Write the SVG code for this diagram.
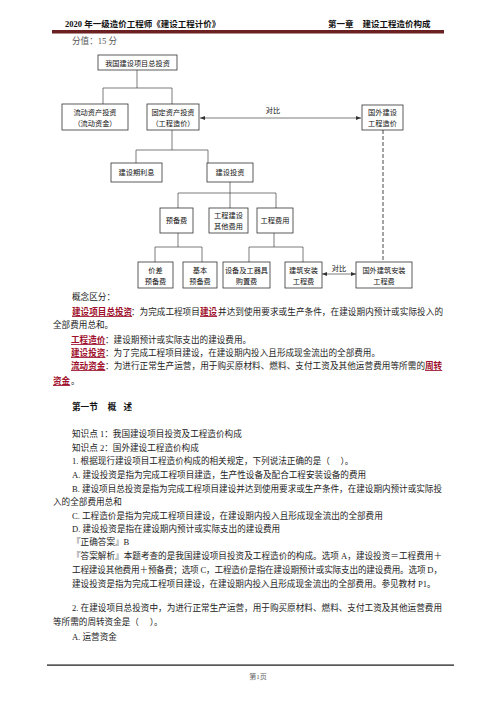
<svg xmlns="http://www.w3.org/2000/svg" width="496" height="702" viewBox="0 0 496 702">
<defs>
<marker id="ah" viewBox="0 0 10 10" refX="10" refY="5" markerWidth="5" markerHeight="5" orient="auto-start-reverse" markerUnits="userSpaceOnUse">
<path d="M0,1 L10,5 L0,9 Z" fill="#333"/>
</marker>
</defs>
<style>
text{font-family:"Liberation Serif","Noto Sans CJK SC",serif;}
.hd{font-size:8.5px;font-weight:bold;fill:#111;}
.b{font-size:8.6px;fill:#222;}
.r{font-size:8.6px;fill:#9e0f2c;font-weight:bold;text-decoration:underline;}
.g{font-size:8.6px;fill:#555;}
.nt{font-size:7.2px;fill:#111;text-anchor:middle;}
.box{fill:#fff;stroke:#333;stroke-width:0.8;}
.cn{fill:none;stroke:#444;stroke-width:0.7;}
.ds{fill:none;stroke:#333;stroke-width:0.9;stroke-dasharray:4,2;}
</style>
<rect width="496" height="702" fill="#fff"/>
<!-- header -->
<text class="hd" x="65" y="27">2020 年一级造价工程师《建设工程计价》</text>
<text class="hd" x="328" y="27">第一章<tspan dx="9">建设工程造价构成</tspan></text>
<rect x="52" y="30" width="392" height="3.5" fill="#6b2121"/>
<text class="g" x="72" y="44">分值：15 分</text>

<!-- connectors -->
<g id="connectors">
<path class="cn" d="M137,70 V88 M103,88 H172 M103,88 V104 M172,88 V104"/>
<path class="cn" d="M172,130 V150 M136,150 H208 M136,150 V163 M208,150 V163"/>
<path class="cn" d="M230,182 V208 M178,193 H276 M178,193 V208 M276,193 V208"/>
<path class="cn" d="M178,233 V247 M155,247 H202 M155,247 V262 M202,247 V262"/>
<path class="cn" d="M274,233 V247 M249,247 H303 M249,247 V262 M303,247 V262"/>
<line class="cn" x1="200" y1="118" x2="361" y2="118" marker-start="url(#ah)" marker-end="url(#ah)"/>
<text class="nt" x="273" y="113">对比</text>
<line class="ds" x1="383" y1="130" x2="383" y2="262"/>
<line class="cn" x1="322" y1="274" x2="356" y2="274" marker-start="url(#ah)" marker-end="url(#ah)"/>
<text class="nt" x="339" y="271">对比</text>
</g>

<!-- nodes -->
<g id="n1"><rect class="box" x="98" y="55" width="79" height="15"/><text class="nt" x="137.5" y="65.5">我国建设项目总投资</text></g>
<g id="n2"><rect class="box" x="62" y="104" width="66" height="26"/><text class="nt" x="95" y="114.5">流动资产投资</text><text class="nt" x="95" y="125.5">（流动资金）</text></g>
<g id="n3"><rect class="box" x="147" y="104" width="52" height="26"/><text class="nt" x="173" y="114.5">固定资产投资</text><text class="nt" x="173" y="125.5">（工程造价）</text></g>
<g id="n4"><rect class="box" x="362" y="105" width="41" height="25"/><text class="nt" x="382.5" y="115">国外建设</text><text class="nt" x="382.5" y="126">工程造价</text></g>
<g id="n5"><rect class="box" x="111" y="163" width="51" height="19"/><text class="nt" x="136.5" y="175">建设期利息</text></g>
<g id="n6"><rect class="box" x="207" y="163" width="46" height="19"/><text class="nt" x="230" y="175">建设投资</text></g>
<g id="n7"><rect class="box" x="160" y="208" width="33" height="25"/><text class="nt" x="176.5" y="223">预备费</text></g>
<g id="n8"><rect class="box" x="209" y="208" width="39" height="25"/><text class="nt" x="228.5" y="218">工程建设</text><text class="nt" x="228.5" y="229">其他费用</text></g>
<g id="n9"><rect class="box" x="257" y="208" width="36" height="25"/><text class="nt" x="275" y="223">工程费用</text></g>
<g id="n10"><rect class="box" x="138" y="262" width="35" height="26"/><text class="nt" x="155.5" y="272.5">价差</text><text class="nt" x="155.5" y="283.5">预备费</text></g>
<g id="n11"><rect class="box" x="183" y="262" width="34" height="26"/><text class="nt" x="200" y="272.5">基本</text><text class="nt" x="200" y="283.5">预备费</text></g>
<g id="n12"><rect class="box" x="223" y="262" width="47" height="26"/><text class="nt" x="246.5" y="272.5">设备及工器具</text><text class="nt" x="246.5" y="283.5">购置费</text></g>
<g id="n13"><rect class="box" x="285" y="262" width="37" height="26"/><text class="nt" x="303.5" y="272.5">建筑安装</text><text class="nt" x="303.5" y="283.5">工程费</text></g>
<g id="n14"><rect class="box" x="356" y="262" width="56" height="26"/><text class="nt" x="384" y="272.5">国外建筑安装</text><text class="nt" x="384" y="283.5">工程费</text></g>

<!-- body text -->
<text class="b" x="72" y="300">概念区分：</text>
<text class="r" x="72" y="315">建设项目总投资</text>
<text class="b" x="131" y="315">：为完成工程项目</text>
<text class="r" x="200" y="315">建设</text>
<text class="b" x="218" y="315" textLength="225" lengthAdjust="spacing">并达到使用要求或生产条件，在建设期内预计或实际投入的</text>
<text class="b" x="53" y="328">全部费用总和。</text>
<text class="r" x="71" y="343">工程造价</text>
<text class="b" x="105" y="343">：建设期预计或实际支出的建设费用。</text>
<text class="r" x="71" y="356">建设投资</text>
<text class="b" x="105" y="356">：为了完成工程项目建设，在建设期内投入且形成现金流出的全部费用。</text>
<text class="r" x="71" y="369">流动资金</text>
<text class="b" x="105" y="369" textLength="320" lengthAdjust="spacing">：为进行正常生产运营，用于购买原材料、燃料、支付工资及其他运营费用等所需的</text>
<text class="r" x="425" y="369">周转</text>
<text class="r" x="53" y="384">资金</text>
<text class="b" x="71" y="384">。</text>

<text class="b" x="72" y="410" style="font-weight:bold;fill:#111">第一节<tspan dx="10">概</tspan><tspan dx="7">述</tspan></text>

<text class="b" x="72" y="436.5">知识点 1：我国建设项目投资及工程造价构成</text>
<text class="b" x="72" y="451">知识点 2：国外建设工程造价构成</text>
<text class="b" x="72" y="464">1. 根据现行建设项目工程造价构成的相关规定，下列说法正确的是（　 ）。</text>
<text class="b" x="72" y="478">A. 建设投资是指为完成工程项目建造，生产性设备及配合工程安装设备的费用</text>
<text class="b" x="72" y="491.5" textLength="370" lengthAdjust="spacing">B. 建设项目总投资是指为完成工程项目建设并达到使用要求或生产条件，在建设期内预计或实际投</text>
<text class="b" x="53" y="505">入的全部费用总和</text>
<text class="b" x="72" y="518.5">C. 工程造价是指为完成工程项目建设，在建设期内投入且形成现金流出的全部费用</text>
<text class="b" x="72" y="532">D. 建设投资是指在建设期内预计或实际支出的建设费用</text>
<text class="b" x="72" y="545">『正确答案』B</text>
<text class="b" x="72" y="559" textLength="370" lengthAdjust="spacing">『答案解析』本题考查的是我国建设项目投资及工程造价的构成。选项 A，建设投资＝工程费用＋</text>
<text class="b" x="72" y="573" textLength="370" lengthAdjust="spacing">工程建设其他费用＋预备费；选项 C，工程造价是指在建设期预计或实际支出的建设费用。选项 D，</text>
<text class="b" x="72" y="586.5">建设投资是指为完成工程项目建设，在建设期内投入且形成现金流出的全部费用。参见教材 P1。</text>
<text class="b" x="72" y="611" textLength="370" lengthAdjust="spacing">2. 在建设项目总投资中，为进行正常生产运营，用于购买原材料、燃料、支付工资及其他运营费用</text>
<text class="b" x="53" y="624.5">等所需的周转资金是（　 ）。</text>
<text class="b" x="72" y="640">A. 运营资金</text>

<!-- footer -->
<rect x="47" y="664.5" width="407" height="1.2" fill="#111"/>
<text x="258" y="679" style="font-size:7px;fill:#666;text-anchor:middle">第1页</text>
</svg>
